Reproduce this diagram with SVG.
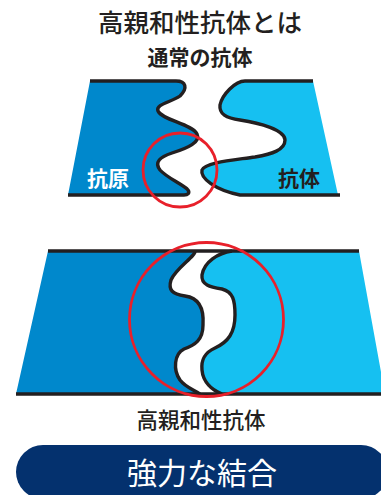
<svg xmlns="http://www.w3.org/2000/svg" width="381" height="495" viewBox="0 0 381 495">
<style>
.t{font-family:"Noto Sans CJK JP","Noto Sans CJK SC",sans-serif;text-anchor:middle}
.dark{fill:#0088cc}
.light{fill:#16c0f1}
.ln{fill:none;stroke:#231f20;stroke-width:3.4;stroke-linejoin:round;stroke-linecap:butt}
.ring{fill:none;stroke:#e8202a;stroke-width:2.8}
</style>
<rect width="381" height="495" fill="#ffffff"/>
<g id="title">
<text class="t" x="200" y="32" font-size="25.5" font-weight="500" fill="#231f20">高親和性抗体とは</text>
<text class="t" x="200" y="65" font-size="21" font-weight="700" fill="#231f20">通常の抗体</text>
</g>
<g id="antigen-normal">
<path class="dark" d="M90 81 L176 81 C186 81 188 88 180 96 C172 102 155 104 158 111 C162 120 192 124 197 134 C201 142 188 148 172 153 C160 157 154 162 160 170 C167 178 184 185 188 190 C190 193 188 195 184 195 L68 195 Z"/>
<path class="ln" d="M90 81 L176 81 C186 81 188 88 180 96 C172 102 155 104 158 111 C162 120 192 124 197 134 C201 142 188 148 172 153 C160 157 154 162 160 170 C167 178 184 185 188 190 C190 193 188 195 184 195 L68 195"/>
<text class="t" x="108" y="186" font-size="21" font-weight="700" fill="#ffffff">抗原</text>
</g>
<g id="antibody-normal">
<path class="light" d="M313 81 L245 81 C235 81 222 95 220 105 C219 114 226 118 240 120 C260 123 285 130 285 140 C285 150 272 154 255 157 C235 160 205 162 202 170 C200 178 215 190 240 195 L338 195 Z"/>
<path class="ln" d="M313 81 L245 81 C235 81 222 95 220 105 C219 114 226 118 240 120 C260 123 285 130 285 140 C285 150 272 154 255 157 C235 160 205 162 202 170 C200 178 215 190 240 195 L340 195"/>
<text class="t" x="299" y="186" font-size="21" font-weight="700" fill="#231f20">抗体</text>
</g>
<g id="ring-normal">
<circle class="ring" cx="180" cy="170" r="37"/>
</g>
<g id="antigen-high">
<path class="dark" d="M48 251 L195 251 C196 256 176 268 171 280 C168 290 172 294 185 296 C200 298 204 310 203 325 C203 340 195 345 184 349 C174 354 173 370 180 380 C186 388 195 390 200 394 L16 394 Z"/>
<path class="ln" d="M195 251 C196 256 176 268 171 280 C168 290 172 294 185 296 C200 298 204 310 203 325 C203 340 195 345 184 349 C174 354 173 370 180 380 C186 388 195 390 200 394"/>
</g>
<g id="antibody-high">
<path class="light" d="M359 251 L232 251 C218 253 204 262 202 275 C201 285 210 287 222 289 C233 292 235 300 235 315 C235 333 228 342 215 348 C204 353 201 360 202 370 C203 382 212 390 222 394 L385 394 Z"/>
<path class="ln" d="M232 251 C218 253 204 262 202 275 C201 285 210 287 222 289 C233 292 235 300 235 315 C235 333 228 342 215 348 C204 353 201 360 202 370 C203 382 212 390 222 394"/>
<path class="ln" d="M48 251 L359 251 M16 394 L381 394"/>
</g>
<g id="ring-high">
<circle class="ring" cx="206.5" cy="319.5" r="77"/>
</g>
<g id="label-high">
<text class="t" x="201" y="428" font-size="21.5" font-weight="500" fill="#231f20">高親和性抗体</text>
</g>
<g id="button">
<rect x="16" y="445" width="372" height="54" rx="27" fill="#04316e"/>
<text class="t" x="202" y="484" font-size="30" font-weight="400" fill="#ffffff">強力な結合</text>
</g>
</svg>
